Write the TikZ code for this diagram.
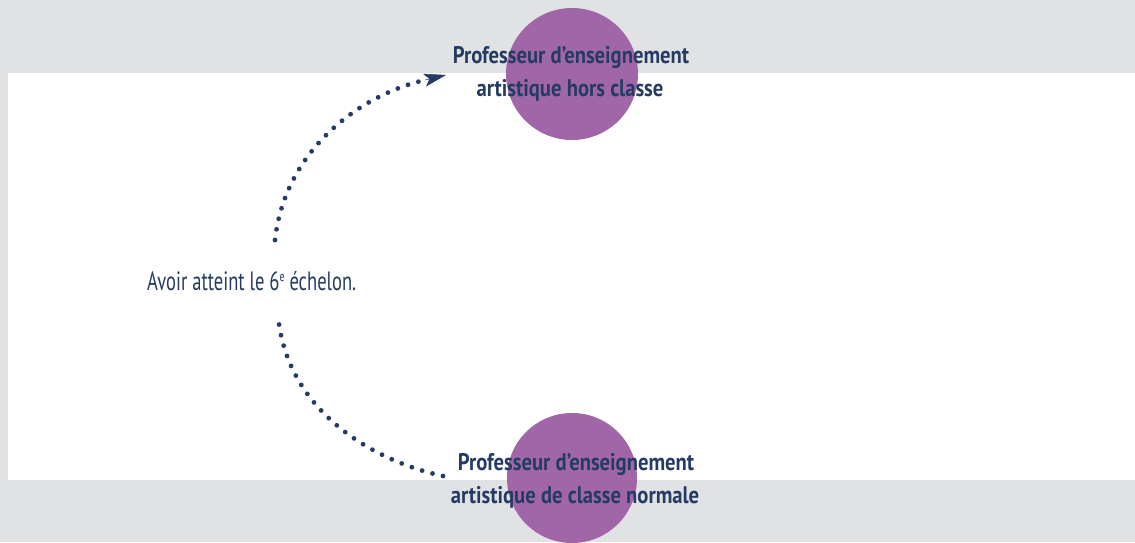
\documentclass[tikz,border=0pt]{standalone}
\usepackage{fontspec}
\setmainfont{PT Sans}
\newfontfamily\titlefont[FakeStretch=0.86]{PT Sans}
\newfontfamily\bodyfont[FakeStretch=0.70]{PT Sans}
\usetikzlibrary{arrows.meta}
\definecolor{bggrey}{HTML}{E1E2E4}
\definecolor{purp}{HTML}{A066A8}
\definecolor{navy}{HTML}{253B63}
\newcommand{\supe}[1]{\raisebox{0.62ex}{\fontsize{14}{14}\selectfont #1}}
\tikzset{
  circ/.style={circle, fill=purp, draw=none, minimum size=#1, inner sep=0pt},
  titletext/.style={anchor=base, inner sep=0pt, text=navy, font=\titlefont\bfseries\fontsize{24}{28}\selectfont},
  bodytext/.style={anchor=base west, inner sep=0pt, text=navy, font=\bodyfont\fontsize{26.5}{30}\selectfont},
  dotline/.style={draw=navy, line width=4.8pt, line cap=round, dash pattern=on 0pt off 10.8pt},
  tipline/.style={draw=navy, line width=0.5pt, -{Stealth[length=22pt,width=13pt,inset=5pt]}}
}
\begin{document}
\begin{tikzpicture}[x=1pt,y=-1pt]
\useasboundingbox (0,0) rectangle (1135,542);
\fill[bggrey] (0,0) rectangle (1135,542);
\fill[white] (8,73) rectangle (1135,480);
\node[circ=132pt] (ctop) at (572,74) {};
\node[circ=130pt] (cbot) at (572,478) {};
\node[titletext] (t1) at (571,63) {Professeur d’enseignement};
\node[titletext] (t2) at (570,96.7) {artistique hors classe};
\node[titletext] (b1) at (576,470) {Professeur d’enseignement};
\node[titletext] (b2) at (575,503) {artistique de classe normale};
\node[bodytext] (cond) at (147,290) {Avoir atteint le 6\supe{e} échelon.};
\coordinate (s1) at (275,240);
\coordinate (e1) at (424.7,80.1);
\coordinate (tip1) at (446,75);
\coordinate (s2) at (278.5,320);
\coordinate (e2) at (443,476);
\draw[dotline] (s1) .. controls (285,150) and (360,95) .. (e1);
\draw[tipline] (e1) -- (tip1);
\draw[dotline] (e2) .. controls (370,460) and (289,410) .. (s2);
\end{tikzpicture}
\end{document}
